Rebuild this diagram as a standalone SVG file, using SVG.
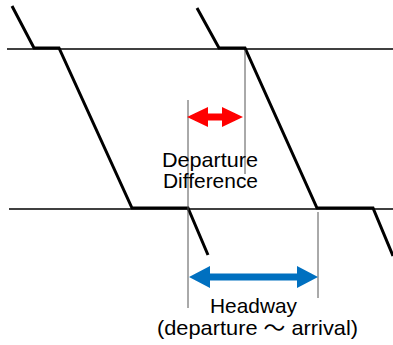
<svg xmlns="http://www.w3.org/2000/svg" width="393" height="345" viewBox="0 0 393 345">
<style>
.track{stroke:#000;stroke-width:1.5;fill:none}
.train{stroke:#000;stroke-width:3;fill:none;stroke-linejoin:miter}
.guide{stroke:#555;stroke-width:1;fill:none}
text{font-family:"Liberation Sans","Noto Sans CJK JP",Arial,sans-serif;font-size:21px;fill:#000}
</style>
<rect width="393" height="345" fill="#fff"/>
<g id="tracks">
<line class="track" x1="7" y1="49" x2="393" y2="49"/>
<line class="track" x1="9" y1="209" x2="393" y2="209"/>
</g>
<g id="train1">
<polyline class="train" points="12,6 34,48 59,48 132,208 188,208 208,255"/>
</g>
<g id="train2">
<polyline class="train" points="197,8 219,48 245,48 317,208 373,208 393,256"/>
</g>
<g id="connectors">
<line class="guide" x1="188" y1="100" x2="188" y2="308"/>
<line class="guide" x1="245" y1="50" x2="245" y2="174"/>
<line class="guide" x1="318" y1="212" x2="318" y2="298"/>
<polygon fill="#ff0000" points="187,117 208,107 208,113.5 222,113.5 222,107 243,117 222,127 222,120.5 208,120.5 208,127"/>
<polygon fill="#0070c0" points="189,277 210,266 210,273.5 297,273.5 297,266 318,277 297,288 297,280.5 210,280.5 210,288"/>
</g>
<g id="labels">
<text x="210" y="167" text-anchor="middle" textLength="96" lengthAdjust="spacingAndGlyphs">Departure</text>
<text x="210.5" y="188" text-anchor="middle" textLength="95" lengthAdjust="spacingAndGlyphs">Difference</text>
<text x="253.5" y="313" text-anchor="middle" textLength="87" lengthAdjust="spacingAndGlyphs">Headway</text>
<text x="257.5" y="335" text-anchor="middle" textLength="201" lengthAdjust="spacingAndGlyphs">(departure ～ arrival)</text>
</g>
</svg>
